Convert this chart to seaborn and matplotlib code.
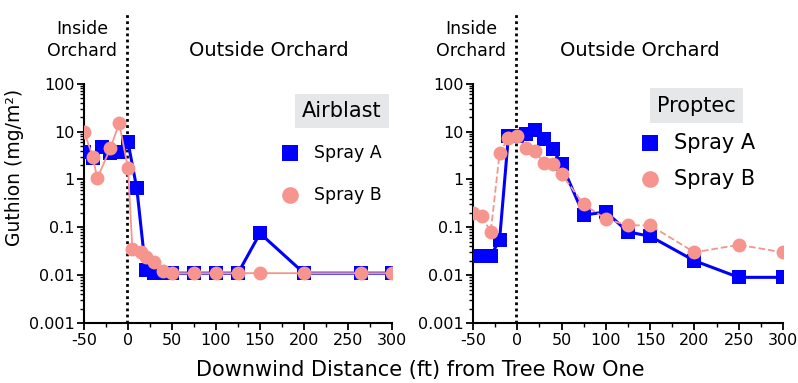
import matplotlib
matplotlib.use("Agg")
import matplotlib.pyplot as plt
from matplotlib.ticker import FixedLocator, NullFormatter
import pandas as pd
import seaborn as sns

# Airblast panel
air_a_x = [-50, -40, -30, -20, -10, 0, 10, 20, 30, 40, 50, 75, 100, 125, 150, 200, 265, 300]
air_a_y = [3.8, 2.8, 4.8, 3.5, 3.8, 6.0, 0.65, 0.013, 0.011, 0.011, 0.011, 0.011, 0.011, 0.011, 0.075, 0.011, 0.011, 0.011]
air_b_x = [-50, -40, -35, -20, -10, 0, 5, 15, 20, 30, 40, 50, 75, 100, 125, 150, 200, 265, 300]
air_b_y = [10, 3.0, 1.05, 4.5, 15, 1.7, 0.035, 0.03, 0.024, 0.019, 0.012, 0.011, 0.011, 0.011, 0.011, 0.011, 0.011, 0.011, 0.011]

# Proptec panel
pro_a_x = [-50, -40, -30, -20, -10, 0, 10, 20, 30, 40, 50, 75, 100, 125, 150, 200, 250, 300]
pro_a_y = [0.025, 0.025, 0.025, 0.055, 8.0, 8.0, 9.0, 11.0, 7.0, 4.3, 2.1, 0.18, 0.21, 0.08, 0.065, 0.02, 0.009, 0.009]
pro_b_x = [-50, -40, -30, -20, -10, 0, 10, 20, 30, 40, 50, 75, 100, 125, 150, 200, 250, 300]
pro_b_y = [0.2, 0.17, 0.08, 3.5, 7.5, 8.0, 4.5, 3.9, 2.2, 2.1, 1.3, 0.3, 0.15, 0.11, 0.11, 0.03, 0.043, 0.03]

x_ticks = [-50, 0, 50, 100, 150, 200, 250, 300]
y_ticks = [0.001, 0.01, 0.1, 1, 10, 100]
y_tick_labels = ["0.001", "0.01", "0.1", "1", "10", "100"]

BLUE = "#0000ff"
PINK = "#f6948e"

sns.set_style("ticks")
plt.rcParams["font.family"] = ["DejaVu Sans"]
plt.rcParams["axes.unicode_minus"] = False
plt.rcParams["text.color"] = "black"
plt.rcParams["xtick.color"] = "black"
plt.rcParams["ytick.color"] = "black"
plt.rcParams["axes.labelcolor"] = "black"
plt.rcParams["axes.edgecolor"] = "black"

fig = plt.figure(figsize=(7.98, 3.83), dpi=100)
W, H = 798, 383


def px_axes(x0, x1, y_top, y_bot):
    return fig.add_axes([x0 / W, 1 - y_bot / H, (x1 - x0) / W, (y_bot - y_top) / H])


def draw_panel(ax, ax_x, ax_y, bx, by, b_dashed, title, out_x, leg):
    df_a = pd.DataFrame({"x": ax_x, "y": ax_y})
    df_b = pd.DataFrame({"x": bx, "y": by})
    sns.lineplot(data=df_a, x="x", y="y", ax=ax, color=BLUE, lw=2.2,
                 marker="s", markersize=10, markeredgewidth=0, zorder=3)
    sns.lineplot(data=df_b, x="x", y="y", ax=ax, color=PINK, lw=1.3,
                 linestyle="--" if b_dashed else "-",
                 marker="o", markersize=10, markeredgewidth=0, zorder=4)
    ax.set_yscale("log")
    ax.set_xlim(-50, 300)
    ax.set_ylim(0.001, 10 ** 3.5)
    ax.spines["top"].set_visible(False)
    ax.spines["right"].set_visible(False)
    ax.spines["left"].set_bounds(0.001, 100)
    ax.spines["left"].set_linewidth(1.5)
    ax.spines["bottom"].set_linewidth(1.5)
    ax.yaxis.set_major_locator(FixedLocator(y_ticks))
    ax.set_yticklabels(y_tick_labels)
    minors = [m * d for d in y_ticks[:-1] for m in range(2, 10)]
    ax.yaxis.set_minor_locator(FixedLocator(minors))
    ax.yaxis.set_minor_formatter(NullFormatter())
    ax.set_xticks(x_ticks)
    ax.set_xticks([-25, 25, 75, 125, 175, 225, 275], minor=True)
    ax.tick_params(axis="both", which="major", labelsize=11.5, length=5, width=1.3, pad=2)
    ax.tick_params(axis="both", which="minor", length=3, width=1)
    ax.set_xlabel("")
    ax.set_ylabel("")
    ax.axvline(-1, color="black", lw=2, linestyle=(0, (1, 1.2)), zorder=2)
    ax.text(-52, 10 ** 2.92, "Inside\nOrchard", ha="center", va="center",
            fontsize=12.5, linespacing=1.25)
    ax.text(out_x, 10 ** 2.7, "Outside Orchard", ha="center", va="center", fontsize=14)
    tx, ty, fs_t, mx, y_a, y_b, fs_l = leg
    ax.text(tx, ty, title, ha="center", va="center", fontsize=fs_t,
            bbox=dict(boxstyle="square,pad=0.35", facecolor="#e6e7e8", edgecolor="none"))
    ax.plot([mx], [y_a], marker="s", color=BLUE, markersize=11, markeredgewidth=0,
            clip_on=False, zorder=5)
    ax.plot([mx], [y_b], marker="o", color=PINK, markersize=12, markeredgewidth=0,
            clip_on=False, zorder=5)
    ax.text(mx + 27, y_a, "Spray A", ha="left", va="center", fontsize=fs_l)
    ax.text(mx + 27, y_b, "Spray B", ha="left", va="center", fontsize=fs_l)


ax1 = px_axes(84, 392, 12, 323)
ax2 = px_axes(473, 783, 12, 323)

draw_panel(ax1, air_a_x, air_a_y, air_b_x, air_b_y, False, "Airblast", 160,
           (243, 10 ** 1.43, 15, 184, 10 ** 0.55, 10 ** -0.32, 12.5))
draw_panel(ax2, pro_a_x, pro_a_y, pro_b_x, pro_b_y, True, "Proptec", 138,
           (202, 10 ** 1.54, 15, 150, 10 ** 0.76, 10 ** 0.0, 15))

ax1.set_ylabel("Guthion (mg/m²)", fontsize=13.5, labelpad=3)
fig.text(420 / W, 1 - 370 / H, "Downwind Distance (ft) from Tree Row One",
         ha="center", va="center", fontsize=15)

fig.savefig("out.png", dpi=100)
